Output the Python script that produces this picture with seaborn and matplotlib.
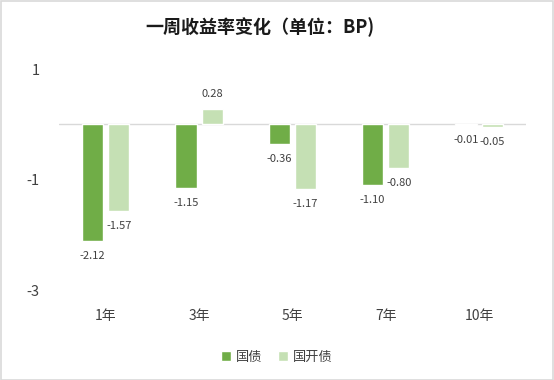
import pandas as pd
import matplotlib.pyplot as plt
import seaborn as sns
from matplotlib.patches import Rectangle

# -----------------------------
# DATA
# -----------------------------
terms = ["1年", "3年", "5年", "7年", "10年"]
series_names = ["国债", "国开债"]
guozhai = [-2.12, -1.15, -0.36, -1.10, -0.01]
guokaizhai = [-1.57, 0.28, -1.17, -0.80, -0.05]
colors = ["#70AD47", "#C5E0B4"]
y_ticks = [1, -1, -3]

df = pd.DataFrame({
    "term": terms * 2,
    "series": [series_names[0]] * len(terms) + [series_names[1]] * len(terms),
    "value": guozhai + guokaizhai,
})

# -----------------------------
# STYLE
# -----------------------------
sns.set_theme(style="white")
plt.rcParams["font.family"] = ["Noto Sans CJK SC", "DejaVu Sans"]
plt.rcParams["axes.unicode_minus"] = False

fig = plt.figure(figsize=(5.54, 3.80), dpi=100)
ax = fig.add_axes([0.1065, 0.2368, 0.8425, 0.5816])

sns.barplot(data=df, x="term", y="value", hue="series", palette=colors,
            saturation=1, width=0.56, gap=0.19, ax=ax, legend=True)

for c in ax.containers:
    ax.bar_label(c, fmt="%.2f", padding=7, fontsize=8, color="#404040")

ax.set_ylim(-3, 1)
ax.set_yticks(y_ticks)
ax.set_yticklabels([str(t) for t in y_ticks], fontsize=10.5, color="#404040")
ax.tick_params(axis="x", labelsize=10, colors="#404040", pad=14, length=0)
ax.tick_params(axis="y", pad=14, length=0)
ax.set_xlabel("")
ax.set_ylabel("")
ax.set_xlim(-0.5, len(terms) - 0.5)
for s in ax.spines.values():
    s.set_visible(False)
ax.axhline(0, color="#D9D9D9", lw=1, zorder=0)

# -----------------------------
# TITLE / LEGEND / FRAME
# -----------------------------
fig.text(0.47, 0.928, "一周收益率变化（单位：BP)", ha="center", va="center",
         fontsize=13, fontweight="bold", color="#1a1a1a")

handles, labels = ax.get_legend_handles_labels()
ax.get_legend().remove()
fig.legend(handles, labels, loc="center", bbox_to_anchor=(0.5, 0.06), ncol=2,
           frameon=False, fontsize=9.5, handlelength=0.7, handleheight=0.7,
           handletextpad=0.4, columnspacing=1.2, labelcolor="#404040")

fig.patches.append(Rectangle((0.001, 0.001), 0.997, 0.997, transform=fig.transFigure,
                             fill=False, edgecolor="#D9D9D9", lw=1.2))

fig.savefig("out.png", dpi=100)
